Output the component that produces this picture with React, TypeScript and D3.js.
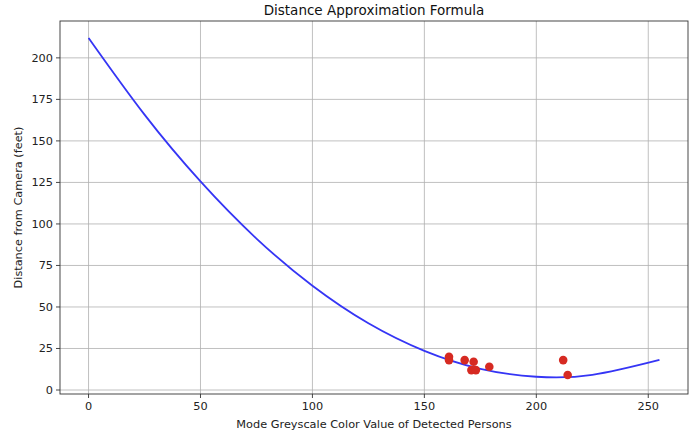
import React from "react";
import * as d3 from "d3";

const curveX = [0, 25, 50, 75, 100, 125, 150, 175, 200, 225, 255];
const curveY = [212, 165.8, 125.6, 91.2, 62.8, 40.2, 23.6, 12.8, 8.0, 9.1, 18.1];

const pointX = [161, 161, 168, 172, 171, 173, 179, 212, 214];
const pointY = [20, 18, 18, 17, 12, 12, 14, 18, 9];

const xTicks = [0, 50, 100, 150, 200, 250];
const yTicks = [0, 25, 50, 75, 100, 125, 150, 175, 200];

const W = 699, H = 434;
const M = { left: 60, right: 11, top: 21, bottom: 40 };

export default function App() {
  const x = d3.scaleLinear().domain([-12.75, 267.75]).range([M.left, W - M.right]);
  const y = d3.scaleLinear().domain([-2.4, 222.2]).range([H - M.bottom, M.top]);
  const line = d3
    .line<number>()
    .x((_, i) => x(curveX[i]))
    .y((d) => y(d))
    .curve(d3.curveNatural);
  const font = "DejaVu Sans, sans-serif";
  return (
    <svg
      width={W}
      height={H}
      style={{ position: "absolute", left: 0, top: 0, background: "#fff" }}
      fontFamily={font}
    >
      <rect x={0} y={0} width={W} height={H} fill="#fff" />
      {xTicks.map((t) => (
        <line key={"gx" + t} x1={x(t)} x2={x(t)} y1={M.top} y2={H - M.bottom} stroke="#b0b0b0" strokeWidth={0.8} />
      ))}
      {yTicks.map((t) => (
        <line key={"gy" + t} x1={M.left} x2={W - M.right} y1={y(t)} y2={y(t)} stroke="#b0b0b0" strokeWidth={0.8} />
      ))}
      <path d={line(curveY) || ""} fill="none" stroke="#3535f5" strokeWidth={1.8} />
      {pointX.map((px, i) => (
        <circle key={"p" + i} cx={x(px)} cy={y(pointY[i])} r={4.3} fill="#d62a22" />
      ))}
      <rect
        x={M.left}
        y={M.top}
        width={W - M.left - M.right}
        height={H - M.top - M.bottom}
        fill="none"
        stroke="#333"
        strokeWidth={0.9}
      />
      {xTicks.map((t) => (
        <g key={"tx" + t}>
          <line x1={x(t)} x2={x(t)} y1={H - M.bottom} y2={H - M.bottom + 4} stroke="#333" strokeWidth={0.9} />
          <text x={x(t)} y={H - M.bottom + 16} textAnchor="middle" fontSize={11.3} fill="#222">
            {t}
          </text>
        </g>
      ))}
      {yTicks.map((t) => (
        <g key={"ty" + t}>
          <line x1={M.left - 4} x2={M.left} y1={y(t)} y2={y(t)} stroke="#333" strokeWidth={0.9} />
          <text x={M.left - 7} y={y(t) + 4} textAnchor="end" fontSize={11.3} fill="#222">
            {t}
          </text>
        </g>
      ))}
      <text x={(M.left + W - M.right) / 2} y={15} textAnchor="middle" fontSize={13.5} fill="#111">
        Distance Approximation Formula
      </text>
      <text x={(M.left + W - M.right) / 2} y={428} textAnchor="middle" fontSize={11.3} fill="#222">
        Mode Greyscale Color Value of Detected Persons
      </text>
      <text
        transform={`translate(22, ${(M.top + H - M.bottom) / 2}) rotate(-90)`}
        textAnchor="middle"
        fontSize={11.3}
        fill="#222"
      >
        Distance from Camera (feet)
      </text>
    </svg>
  );
}
